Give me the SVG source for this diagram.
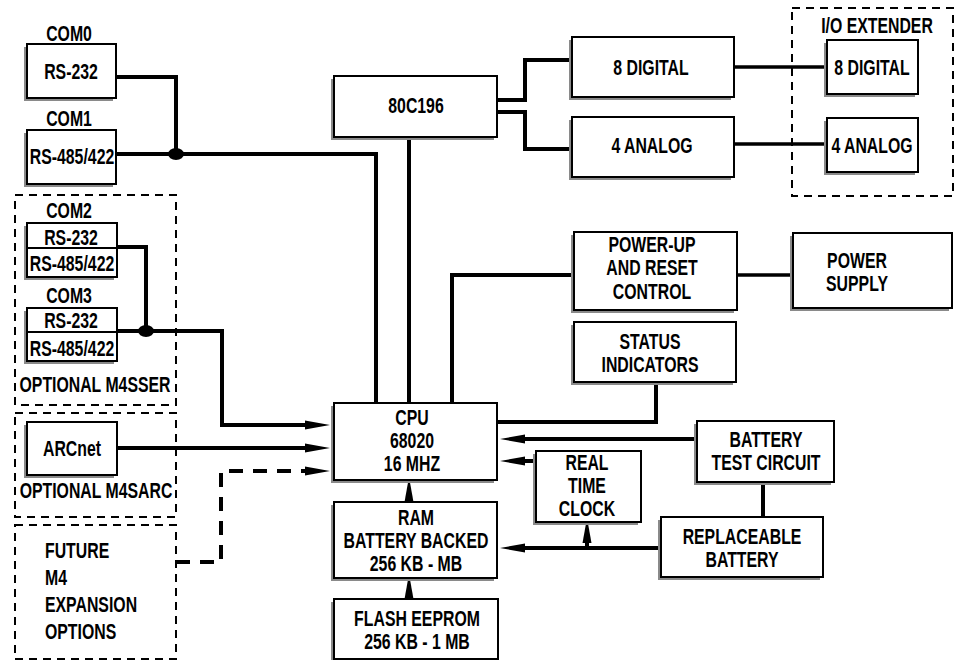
<svg xmlns="http://www.w3.org/2000/svg" width="954" height="660" viewBox="0 0 954 660">
<style>
.bg{fill:#fff}
.sh{fill:#8a8a8a}
.bx{fill:#fff;stroke:#000;stroke-width:2}
.dash{fill:none;stroke:#000;stroke-width:2;stroke-dasharray:8 6}
.ln{fill:none;stroke:#000;stroke-width:4}
.lt{fill:none;stroke:#000;stroke-width:3.5}
.dl{fill:none;stroke:#000;stroke-width:4;stroke-dasharray:14 10}
text{font-family:"Liberation Sans",Arial,sans-serif;font-size:22px;font-weight:bold;fill:#000;text-anchor:middle}
text.l{text-anchor:start}
</style>
<defs>
<marker id="ah" markerUnits="userSpaceOnUse" viewBox="0 0 25 10" markerWidth="25" markerHeight="10" refX="5" refY="5" orient="auto">
<path d="M0,0.5 L25,5 L0,9.5 Z" fill="#000"/>
</marker>
</defs>
<rect class="bg" x="0" y="0" width="954" height="660"/>

<g id="connectors">
<path class="ln" d="M116,77 H176 V154"/>
<path class="ln" d="M116,154 H376 V403"/>
<ellipse cx="176" cy="154" rx="8" ry="6" fill="#000"/>
<path class="ln" d="M117,247 H146 V331"/>
<path class="ln" d="M117,331 H222 V425 H310" marker-end="url(#ah)"/>
<ellipse cx="146" cy="331" rx="8" ry="6" fill="#000"/>
<path class="ln" d="M117,448 H310" marker-end="url(#ah)"/>
<path class="dl" d="M176,562 H221 V471 H310" marker-end="url(#ah)"/>
<path class="ln" d="M409,137 V403"/>
<path class="ln" d="M497,100 H525 V60 H572"/>
<path class="ln" d="M497,112 H525 V149 H572"/>
<path class="lt" d="M734,67 H827"/>
<path class="lt" d="M734,144 H827"/>
<path class="ln" d="M452,403 V275 H574"/>
<path class="lt" d="M737,275 H793"/>
<path class="ln" d="M656,382 V422 H497"/>
<path class="ln" d="M697,439 H520" marker-end="url(#ah)"/>
<path class="ln" d="M536,461 H520" marker-end="url(#ah)"/>
<path class="ln" d="M661,548 H520" marker-end="url(#ah)"/>
<path class="ln" d="M587,548 V538" marker-end="url(#ah)"/>
<path class="ln" d="M409,502 V497" marker-end="url(#ah)"/>
<path class="ln" d="M409,599 V594" marker-end="url(#ah)"/>
<path class="ln" d="M763,482 V517"/>
</g>

<g id="com0">
<text transform="translate(69,41) scale(0.72,1)">COM0</text>
<rect class="sh" x="24" y="47" width="89" height="54"/>
<rect class="bx" x="27" y="44" width="89" height="54"/>
<text transform="translate(71,79) scale(0.72,1)">RS-232</text>
</g>
<g id="com1">
<text transform="translate(69,126) scale(0.72,1)">COM1</text>
<rect class="sh" x="24" y="133" width="89" height="54"/>
<rect class="bx" x="27" y="130" width="89" height="54"/>
<text transform="translate(72,164) scale(0.72,1)">RS-485/422</text>
</g>

<g id="m4sser">
<rect class="dash" x="15" y="195" width="161" height="210"/>
<text transform="translate(69,218) scale(0.72,1)">COM2</text>
<rect class="sh" x="24" y="226" width="90" height="54"/>
<rect class="bx" x="27" y="223" width="90" height="54"/>
<line x1="27" y1="248" x2="117" y2="248" stroke="#000" stroke-width="2"/>
<text transform="translate(71,245) scale(0.72,1)">RS-232</text>
<text transform="translate(72,271) scale(0.72,1)">RS-485/422</text>
<text transform="translate(69,303) scale(0.72,1)">COM3</text>
<rect class="sh" x="24" y="311" width="90" height="53"/>
<rect class="bx" x="27" y="308" width="90" height="53"/>
<line x1="27" y1="332" x2="117" y2="332" stroke="#000" stroke-width="2"/>
<text transform="translate(71,328) scale(0.72,1)">RS-232</text>
<text transform="translate(72,356) scale(0.72,1)">RS-485/422</text>
<text transform="translate(95,392) scale(0.72,1)">OPTIONAL M4SSER</text>
</g>

<g id="m4sarc">
<rect class="dash" x="15" y="413" width="161" height="104"/>
<rect class="sh" x="24" y="425" width="90" height="53"/>
<rect class="bx" x="27" y="422" width="90" height="53"/>
<text transform="translate(72,456) scale(0.72,1)">ARCnet</text>
<text transform="translate(96,498) scale(0.72,1)">OPTIONAL M4SARC</text>
</g>

<g id="future">
<rect class="dash" x="15" y="525" width="161" height="134"/>
<text class="l" transform="translate(45,558) scale(0.72,1)">FUTURE</text>
<text class="l" transform="translate(45,585) scale(0.72,1)">M4</text>
<text class="l" transform="translate(45,612) scale(0.72,1)">EXPANSION</text>
<text class="l" transform="translate(45,639) scale(0.72,1)">OPTIONS</text>
</g>

<g id="c80c196">
<rect class="sh" x="331" y="79" width="163" height="61"/>
<rect class="bx" x="334" y="76" width="163" height="61"/>
<text transform="translate(416,113) scale(0.72,1)">80C196</text>
</g>

<g id="digital8">
<rect class="sh" x="569" y="40" width="162" height="60"/>
<rect class="bx" x="572" y="37" width="162" height="60"/>
<text transform="translate(651,75) scale(0.72,1)">8 DIGITAL</text>
</g>
<g id="analog4">
<rect class="sh" x="569" y="120" width="162" height="60"/>
<rect class="bx" x="572" y="117" width="162" height="60"/>
<text transform="translate(652,153) scale(0.72,1)">4 ANALOG</text>
</g>

<g id="io-extender">
<rect class="dash" x="792" y="8" width="161" height="188"/>
<text transform="translate(877,33) scale(0.72,1)">I/O EXTENDER</text>
<rect class="sh" x="824" y="43" width="91" height="54"/>
<rect class="bx" x="827" y="40" width="91" height="54"/>
<text transform="translate(872,75) scale(0.72,1)">8 DIGITAL</text>
<rect class="sh" x="824" y="121" width="91" height="54"/>
<rect class="bx" x="827" y="118" width="91" height="54"/>
<text transform="translate(872,153) scale(0.72,1)">4 ANALOG</text>
</g>

<g id="powerup">
<rect class="sh" x="571" y="235" width="163" height="78"/>
<rect class="bx" x="574" y="232" width="163" height="78"/>
<text transform="translate(652,252) scale(0.72,1)">POWER-UP</text>
<text transform="translate(652,275) scale(0.72,1)">AND RESET</text>
<text transform="translate(652,299) scale(0.72,1)">CONTROL</text>
</g>
<g id="powersupply">
<rect class="sh" x="790" y="236" width="159" height="75"/>
<rect class="bx" x="793" y="233" width="159" height="75"/>
<text transform="translate(857,268) scale(0.72,1)">POWER</text>
<text transform="translate(857,291) scale(0.72,1)">SUPPLY</text>
</g>
<g id="status">
<rect class="sh" x="571" y="325" width="162" height="60"/>
<rect class="bx" x="574" y="322" width="162" height="60"/>
<text transform="translate(650,349) scale(0.72,1)">STATUS</text>
<text transform="translate(650,372) scale(0.72,1)">INDICATORS</text>
</g>

<g id="cpu">
<rect class="sh" x="331" y="406" width="163" height="77"/>
<rect class="bx" x="334" y="403" width="163" height="77"/>
<text transform="translate(412,425) scale(0.72,1)">CPU</text>
<text transform="translate(412,448) scale(0.72,1)">68020</text>
<text transform="translate(412,471) scale(0.72,1)">16 MHZ</text>
</g>
<g id="rtc">
<rect class="sh" x="533" y="454" width="105" height="71"/>
<rect class="bx" x="536" y="451" width="105" height="71"/>
<text transform="translate(587,470) scale(0.72,1)">REAL</text>
<text transform="translate(587,493) scale(0.72,1)">TIME</text>
<text transform="translate(587,516) scale(0.72,1)">CLOCK</text>
</g>
<g id="ram">
<rect class="sh" x="331" y="505" width="163" height="76"/>
<rect class="bx" x="334" y="502" width="163" height="76"/>
<text transform="translate(416,525) scale(0.72,1)">RAM</text>
<text transform="translate(416,548) scale(0.72,1)">BATTERY BACKED</text>
<text transform="translate(416,571) scale(0.72,1)">256 KB - MB</text>
</g>
<g id="flash">
<rect class="sh" x="331" y="602" width="164" height="62"/>
<rect class="bx" x="334" y="599" width="164" height="60"/>
<text transform="translate(417,626) scale(0.72,1)">FLASH EEPROM</text>
<text transform="translate(417,649) scale(0.72,1)">256 KB - 1 MB</text>
</g>
<g id="battery-test">
<rect class="sh" x="694" y="424" width="137" height="61"/>
<rect class="bx" x="697" y="421" width="137" height="61"/>
<text transform="translate(766,447) scale(0.72,1)">BATTERY</text>
<text transform="translate(766,470) scale(0.72,1)">TEST CIRCUIT</text>
</g>
<g id="replaceable-battery">
<rect class="sh" x="658" y="520" width="162" height="60"/>
<rect class="bx" x="661" y="517" width="162" height="60"/>
<text transform="translate(742,544) scale(0.72,1)">REPLACEABLE</text>
<text transform="translate(742,567) scale(0.72,1)">BATTERY</text>
</g>
</svg>
